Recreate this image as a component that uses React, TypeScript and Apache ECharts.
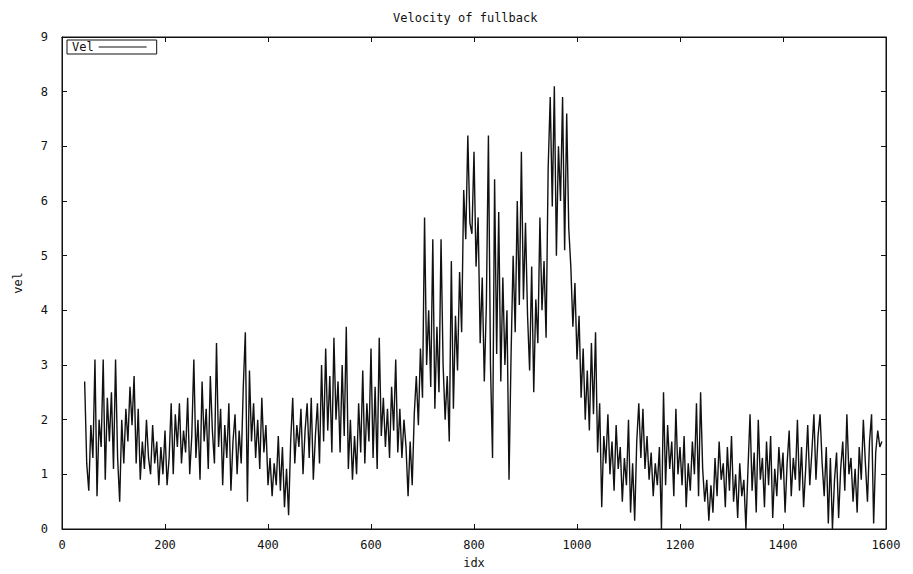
import React, { useEffect, useRef } from "react";
import * as echarts from "echarts";

const TITLE = "Velocity of fullback";
const X_NAME = "idx";
const Y_NAME = "vel";
const SERIES_NAME = "Vel";

// sample index of the first reading and spacing between readings
const IDX_START = 44;
const IDX_STEP = 4;

// velocity readings (idx 44 .. 1592, every 4th sample)
const VEL_A = [2.7, 1.2, 0.7, 1.9, 1.3, 3.1, 0.6, 2.0, 1.5, 3.1, 0.9, 2.4, 1.6, 2.5, 1.1, 3.1, 1.3, 0.5, 2.0, 1.2, 2.2, 1.6, 2.6, 1.9, 2.8];
const VEL_B = [1.2, 2.2, 0.9, 1.6, 1.1, 2.0, 1.3, 1.0, 1.9, 1.2, 1.6, 0.8, 1.5, 1.0, 1.8, 0.8, 1.3, 2.3, 1.0, 2.1, 1.5, 2.3, 1.2, 1.8, 1.4];
const VEL_C = [2.4, 1.0, 1.7, 3.1, 1.3, 2.0, 0.9, 2.7, 1.6, 2.2, 1.1, 2.8, 1.8, 1.2, 3.4, 1.5, 2.2, 0.8, 1.9, 1.3, 2.3, 0.7, 1.6, 2.1, 1.0];
const VEL_D = [1.8, 1.2, 2.6, 3.6, 0.5, 2.9, 1.6, 2.3, 1.3, 2.0, 1.1, 2.4, 1.4, 1.9, 0.8, 1.3, 0.6, 1.2, 0.8, 1.7, 0.7, 1.5, 0.4, 1.1, 0.25];
const VEL_E = [1.6, 2.4, 1.2, 1.9, 1.5, 2.2, 1.0, 1.8, 2.3, 1.3, 2.4, 0.9, 1.7, 2.3, 1.2, 3.0, 1.6, 3.3, 1.8, 2.8, 1.4, 3.5, 2.0, 2.7, 1.4];
const VEL_F = [3.0, 1.7, 3.7, 1.1, 2.0, 0.9, 1.7, 1.0, 2.3, 1.4, 2.9, 1.2, 2.3, 1.6, 3.3, 1.3, 2.6, 1.1, 3.5, 1.7, 2.4, 1.5, 2.2, 1.3, 2.6];
const VEL_G = [1.8, 3.1, 1.4, 2.2, 1.3, 2.0, 1.5, 0.6, 1.6, 0.8, 2.1, 2.8, 1.9, 3.3, 2.4, 5.7, 3.0, 4.0, 2.6, 5.3, 2.2, 3.7, 2.5, 5.3, 3.0];
const VEL_H = [2.0, 2.8, 1.6, 4.9, 2.2, 3.9, 2.9, 4.7, 3.6, 6.2, 5.3, 7.2, 5.6, 5.4, 6.9, 4.8, 5.7, 3.4, 4.6, 2.7, 4.1, 7.2, 3.0, 1.3, 6.4];
const VEL_I = [3.2, 5.8, 2.7, 4.6, 3.0, 4.0, 0.9, 3.2, 5.0, 3.6, 6.0, 4.1, 6.9, 4.2, 5.6, 3.9, 2.9, 4.8, 2.5, 4.2, 3.4, 5.7, 4.0, 4.9, 3.5];
const VEL_J = [6.6, 7.9, 5.9, 8.1, 5.0, 7.0, 6.0, 7.9, 5.1, 7.6, 5.5, 4.8, 3.7, 4.5, 3.1, 3.9, 2.4, 3.3, 2.0, 2.9, 1.8, 3.4, 2.1, 3.6, 1.4];
const VEL_K = [2.3, 0.4, 1.7, 1.2, 2.1, 1.0, 1.6, 0.7, 1.9, 1.1, 1.5, 0.5, 1.3, 0.8, 2.0, 0.3, 1.2, 0.15, 1.6, 2.3, 1.3, 2.2, 1.1, 1.7, 0.9];
const VEL_L = [1.4, 0.6, 1.2, 0.8, 1.5, 0.0, 2.5, 0.8, 1.9, 1.1, 1.6, 0.6, 2.2, 1.0, 1.5, 0.8, 1.7, 0.4, 1.2, 0.7, 1.6, 1.0, 2.3, 0.6, 2.5];
const VEL_M = [1.1, 0.5, 0.9, 0.15, 0.8, 0.3, 1.3, 0.6, 1.6, 0.9, 1.2, 0.4, 1.5, 0.7, 1.7, 0.5, 1.0, 0.2, 1.2, 0.6, 0.9, 0.0, 1.1, 2.1, 0.7];
const VEL_N = [1.4, 0.3, 2.0, 0.9, 1.3, 0.4, 1.6, 0.8, 1.7, 0.2, 1.1, 0.6, 1.5, 0.9, 1.4, 0.3, 1.2, 1.8, 0.6, 1.3, 0.9, 2.0, 0.7, 1.5, 0.4];
const VEL_O = [1.1, 1.9, 0.8, 1.4, 2.1, 0.9, 1.7, 2.1, 1.2, 0.6, 1.5, 0.1, 1.3, 0.0, 0.9, 1.4, 0.2, 1.1, 1.6, 0.7, 2.1, 1.0, 1.3, 0.5, 1.1];
const VEL_P = [0.3, 1.5, 0.9, 2.0, 1.2, 0.5, 1.6, 2.1, 0.1, 1.4, 1.8, 1.5, 1.6];

const VEL = [
  ...VEL_A, ...VEL_B, ...VEL_C, ...VEL_D, ...VEL_E, ...VEL_F, ...VEL_G, ...VEL_H,
  ...VEL_I, ...VEL_J, ...VEL_K, ...VEL_L, ...VEL_M, ...VEL_N, ...VEL_O, ...VEL_P,
];

const X_MIN = 0;
const X_MAX = 1600;
const X_INTERVAL = 200;
const Y_MIN = 0;
const Y_MAX = 9;
const Y_INTERVAL = 1;

const FONT = "DejaVu Sans Mono";
const INK = "#111";

export default function App() {
  const ref = useRef<HTMLDivElement>(null);

  useEffect(() => {
    if (!ref.current) return;
    const chart = echarts.init(ref.current, null, { renderer: "svg" });
    const data = VEL.map((v, i) => [IDX_START + i * IDX_STEP, v]);

    const baseX = {
      type: "value" as const,
      min: X_MIN,
      max: X_MAX,
      interval: X_INTERVAL,
      splitLine: { show: false },
      axisLine: { show: true, onZero: false, lineStyle: { color: INK, width: 1 } },
      axisTick: { show: true, inside: true, length: 5, lineStyle: { color: INK } },
    };
    const baseY = {
      type: "value" as const,
      min: Y_MIN,
      max: Y_MAX,
      interval: Y_INTERVAL,
      splitLine: { show: false },
      axisLine: { show: true, onZero: false, lineStyle: { color: INK, width: 1 } },
      axisTick: { show: true, inside: true, length: 5, lineStyle: { color: INK } },
    };

    chart.setOption({
      animation: false,
      backgroundColor: "#fff",
      title: {
        text: TITLE,
        left: 388,
        top: 7,
        textStyle: { fontFamily: FONT, fontSize: 12, fontWeight: "normal", color: INK },
      },
      legend: {
        left: 67,
        top: 40,
        orient: "horizontal",
        align: "right",
        padding: [1, 10, 1, 5],
        borderColor: INK,
        borderWidth: 1,
        borderRadius: 0,
        itemWidth: 48,
        itemHeight: 1,
        textStyle: { fontFamily: FONT, fontSize: 12, color: INK },
        data: [{ name: SERIES_NAME, icon: "rect", itemStyle: { color: INK } }],
      },
      grid: {
        left: 62,
        right: 27,
        top: 37,
        bottom: 42,
        show: true,
        borderColor: INK,
        borderWidth: 1,
      },
      xAxis: [
        {
          ...baseX,
          position: "bottom",
          name: X_NAME,
          nameLocation: "middle",
          nameGap: 28,
          nameTextStyle: { fontFamily: FONT, fontSize: 12, color: INK },
          axisLabel: {
            show: true,
            margin: 10,
            fontFamily: FONT,
            fontSize: 12,
            color: INK,
            formatter: (v: number) => String(v),
          },
        },
        { ...baseX, position: "top", axisLabel: { show: false } },
      ],
      yAxis: [
        {
          ...baseY,
          position: "left",
          name: Y_NAME,
          nameLocation: "middle",
          nameRotate: 90,
          nameGap: 38,
          nameTextStyle: { fontFamily: FONT, fontSize: 12, color: INK },
          axisLabel: {
            show: true,
            margin: 14,
            fontFamily: FONT,
            fontSize: 12,
            color: INK,
            formatter: (v: number) => String(v),
          },
        },
        { ...baseY, position: "right", axisLabel: { show: false } },
      ],
      series: [
        {
          name: SERIES_NAME,
          type: "line",
          xAxisIndex: 0,
          yAxisIndex: 0,
          data,
          showSymbol: false,
          symbol: "none",
          lineStyle: { color: INK, width: 1.4, join: "miter" },
          itemStyle: { color: INK },
        },
      ],
    });

    return () => chart.dispose();
  }, []);

  return (
    <div
      ref={ref}
      style={{ position: "fixed", left: 0, top: 0, width: 913, height: 574, background: "#fff" }}
    />
  );
}
